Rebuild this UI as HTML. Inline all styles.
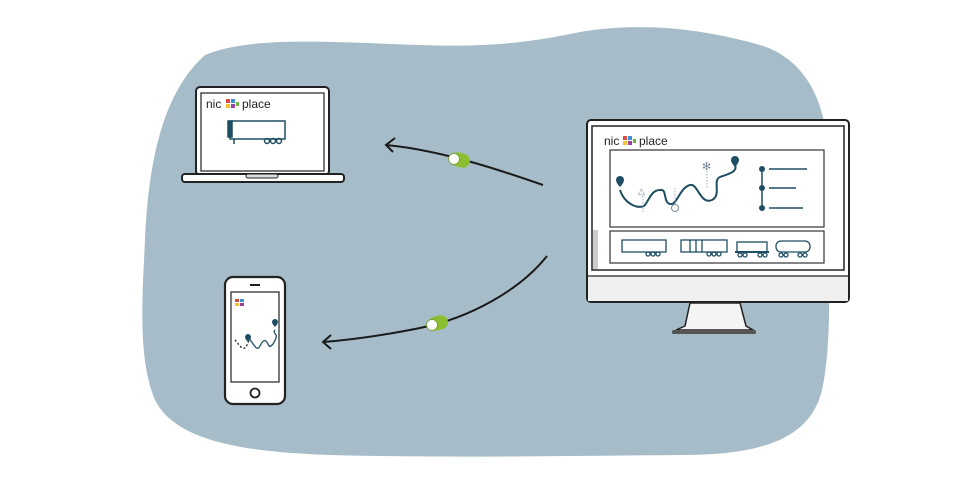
<!DOCTYPE html>
<html><head><meta charset="utf-8"><style>
html,body{margin:0;padding:0;background:#fff;}
svg{display:block}
text{font-family:"Liberation Sans",sans-serif;}
</style></head><body>
<svg width="960" height="480" viewBox="0 0 960 480" xmlns="http://www.w3.org/2000/svg">
<path d="M205,55 C250,36 330,42 420,45 C500,48 540,40 580,32 C640,22 700,28 760,45 C810,60 830,110 828,170 C826,240 835,330 822,390 C810,440 760,455 680,455 C560,456 440,458 330,455 C240,452 175,440 155,400 C138,360 142,300 145,240 C148,170 160,95 205,55 Z" fill="#a6bdc9"/>

<!-- Laptop -->
<rect x="196" y="87" width="133" height="88" rx="4" fill="#fff" stroke="#222" stroke-width="2"/>
<rect x="201" y="93" width="123" height="78" fill="#fff" stroke="#222" stroke-width="1.2"/>
<rect x="182" y="174" width="162" height="8" rx="3" fill="#fff" stroke="#222" stroke-width="2"/>
<rect x="246" y="174" width="32" height="4" rx="2" fill="#ddd" stroke="#222" stroke-width="1"/>
<text x="206" y="108" font-size="12" fill="#222">nic</text>
<g><rect x="226" y="99" width="4" height="4" fill="#e04a3f"/><rect x="231" y="99" width="4" height="4" fill="#3c8fd0"/><rect x="226" y="104" width="4" height="4" fill="#f2c12e"/><rect x="231" y="104" width="4" height="4" fill="#9b3fa0"/><rect x="236" y="102" width="3" height="4" fill="#6cb33f"/></g>
<text x="242" y="108" font-size="12" fill="#222">place</text>
<g fill="none" stroke="#1f4e63" stroke-width="1.5">
<rect x="230" y="121" width="55" height="18"/>
<rect x="228" y="121" width="4" height="16" fill="#1f4e63"/>
<line x1="234" y1="139" x2="234" y2="144"/>
<circle cx="267" cy="141" r="2.5"/><circle cx="273" cy="141" r="2.5"/><circle cx="279" cy="141" r="2.5"/>
</g>

<!-- Phone -->
<rect x="225" y="277" width="60" height="127" rx="8" fill="#fff" stroke="#222" stroke-width="2.2"/>
<rect x="231" y="292" width="48" height="90" fill="#fff" stroke="#222" stroke-width="1.2"/>
<line x1="250" y1="285" x2="260" y2="285" stroke="#222" stroke-width="2"/>
<circle cx="255" cy="393" r="4.5" fill="none" stroke="#222" stroke-width="1.8"/>
<rect x="235" y="299" width="4" height="3" fill="#e04a3f"/><rect x="240" y="299" width="4" height="3" fill="#3c8fd0"/><rect x="235" y="303" width="4" height="3" fill="#f2c12e"/><rect x="240" y="303" width="4" height="3" fill="#9b3fa0"/>
<path d="M249,338 C254,345 257,352 260,346 C264,338 266,340 268,344 C270,350 274,343 276,338 C278,334 272,333 275,330" fill="none" stroke="#1f4e63" stroke-width="1.3"/>
<path d="M235,340 C240,345 244,356 249,340" fill="none" stroke="#222" stroke-width="1.3" stroke-dasharray="2,2"/>
<path d="M245,337 a3,3 0 1 1 6,0 c0,2 -3,5 -3,5 c0,0 -3,-3 -3,-5z" fill="#1f4e63"/>
<path d="M272,322 a3,3 0 1 1 6,0 c0,2 -3,5 -3,5 c0,0 -3,-3 -3,-5z" fill="#1f4e63"/>

<!-- Monitor -->
<rect x="587" y="120" width="262" height="182" rx="4" fill="#fff" stroke="#222" stroke-width="2"/>
<rect x="592" y="126" width="252" height="144" fill="#fff" stroke="#222" stroke-width="1.5"/>
<rect x="593" y="230" width="5" height="39" fill="#ccc"/>
<line x1="588" y1="276" x2="848" y2="276" stroke="#222" stroke-width="1.2"/>
<rect x="588" y="277" width="260" height="24" fill="#f0f0f0"/>
<path d="M690,303 L685,326 L676,330 L753,330 L746,326 L740,303 Z" fill="#f4f4f4" stroke="#222" stroke-width="1.5"/>
<rect x="672" y="330" width="84" height="4" rx="1.5" fill="#555"/>
<text x="604" y="145" font-size="12" fill="#222">nic</text>
<rect x="623" y="136" width="4" height="4" fill="#e04a3f"/><rect x="628" y="136" width="4" height="4" fill="#3c8fd0"/><rect x="623" y="141" width="4" height="4" fill="#f2c12e"/><rect x="628" y="141" width="4" height="4" fill="#9b3fa0"/><rect x="633" y="139" width="3" height="4" fill="#6cb33f"/>
<text x="639" y="145" font-size="12" fill="#222">place</text>
<rect x="610" y="150" width="214" height="77" fill="#fff" stroke="#333" stroke-width="1.2"/>
<rect x="610" y="231" width="214" height="32" fill="#fff" stroke="#333" stroke-width="1.2"/>
<path d="M620,190 C625,205 640,210 645,205 C650,198 652,190 660,190 C668,188 662,205 672,204 C678,202 680,188 690,185 C698,183 700,205 712,200 C722,195 712,180 720,177 C728,174 738,172 735,165" fill="none" stroke="#1f4e63" stroke-width="2"/>
<path d="M616,180 a4,4 0 1 1 8,0 c0,3 -4,7 -4,7 c0,0 -4,-4 -4,-7z" fill="#1f4e63"/>
<path d="M731,160 a4,4 0 1 1 8,0 c0,3 -4,7 -4,7 c0,0 -4,-4 -4,-7z" fill="#1f4e63"/>
<line x1="643" y1="196" x2="643" y2="212" stroke="#9ab" stroke-dasharray="1.5,1.5"/>
<text x="638" y="194" font-size="9" fill="#789">△</text>
<line x1="675" y1="188" x2="675" y2="204" stroke="#9ab" stroke-dasharray="1.5,1.5"/>
<circle cx="675" cy="208" r="3.5" fill="none" stroke="#789"/>
<text x="702" y="170" font-size="11" fill="#789">✻</text>
<line x1="707" y1="171" x2="707" y2="188" stroke="#9ab" stroke-dasharray="1.5,1.5"/>
<line x1="762" y1="169" x2="762" y2="208" stroke="#1f4e63" stroke-width="1.5"/>
<circle cx="762" cy="169" r="3" fill="#1f4e63"/><circle cx="762" cy="188" r="3" fill="#1f4e63"/><circle cx="762" cy="208" r="3" fill="#1f4e63"/>
<line x1="769" y1="169" x2="807" y2="169" stroke="#1f4e63" stroke-width="1.5"/>
<line x1="769" y1="188" x2="796" y2="188" stroke="#1f4e63" stroke-width="1.5"/>
<line x1="769" y1="208" x2="803" y2="208" stroke="#1f4e63" stroke-width="1.5"/>
<g fill="none" stroke="#1f4e63" stroke-width="1.3">
<rect x="622" y="240" width="44" height="12"/><circle cx="648" cy="254" r="2"/><circle cx="653" cy="254" r="2"/><circle cx="658" cy="254" r="2"/>
<rect x="681" y="240" width="46" height="12"/><line x1="690" y1="240" x2="690" y2="252"/><line x1="696" y1="240" x2="696" y2="252"/><line x1="702" y1="240" x2="702" y2="252"/><circle cx="709" cy="254" r="2"/><circle cx="714" cy="254" r="2"/><circle cx="719" cy="254" r="2"/>
<rect x="737" y="242" width="30" height="10"/><line x1="735" y1="252" x2="769" y2="252" stroke-width="2"/><circle cx="740" cy="255" r="2"/><circle cx="745" cy="255" r="2"/><circle cx="760" cy="255" r="2"/><circle cx="765" cy="255" r="2"/>
<rect x="776" y="241" width="34" height="11" rx="5"/><circle cx="781" cy="255" r="2"/><circle cx="786" cy="255" r="2"/><circle cx="800" cy="255" r="2"/><circle cx="805" cy="255" r="2"/>
</g>

<!-- arrows -->
<path d="M543,185 C500,170 440,150 386,145" fill="none" stroke="#1a1a1a" stroke-width="2"/>
<path d="M395,138 L386,145 L393,152" fill="none" stroke="#1a1a1a" stroke-width="2"/>
<path d="M547,256 C520,290 470,318 420,328 C380,336 350,340 323,342" fill="none" stroke="#1a1a1a" stroke-width="2"/>
<path d="M331,335 L323,342 L331,349" fill="none" stroke="#1a1a1a" stroke-width="2"/>
<rect x="450" y="153" width="20" height="14" rx="7" fill="#8cbf2f" transform="rotate(15 460 160)"/>
<circle cx="454" cy="159" r="5.5" fill="#fff" stroke="#6a9a20" stroke-width="0.8"/>
<rect x="428" y="316" width="20" height="14" rx="7" fill="#8cbf2f" transform="rotate(-15 438 323)"/>
<circle cx="432" cy="325" r="5.5" fill="#fff" stroke="#6a9a20" stroke-width="0.8"/>
</svg>
</body></html>
